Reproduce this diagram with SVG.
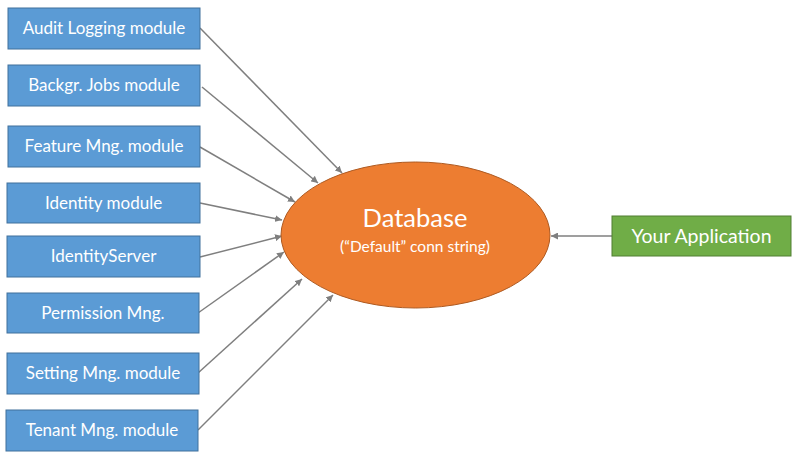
<svg xmlns="http://www.w3.org/2000/svg" width="800" height="459" viewBox="0 0 800 459">
<style>
.mod rect{fill:#5b9bd5;stroke:#41719c;stroke-width:1}
.t{font-family:Lato,"Open Sans",sans-serif;fill:#fff;text-anchor:middle}
.m{font-size:17px}
.c line{stroke:#7f7f7f;stroke-width:1.5;marker-end:url(#ah)}
</style>
<defs>
<marker id="ah" viewBox="0 0 10 10" refX="10" refY="5" markerWidth="7" markerHeight="7" markerUnits="userSpaceOnUse" orient="auto">
<path d="M0,0 L10,5 L0,10 z" fill="#7f7f7f"/>
</marker>
</defs>
<rect width="800" height="459" fill="#fff"/>
<g id="connectors" class="c">
<line x1="200" y1="28" x2="342" y2="173"/>
<line x1="202" y1="87" x2="318" y2="183"/>
<line x1="200" y1="147" x2="295" y2="202"/>
<line x1="200" y1="203" x2="282" y2="220"/>
<line x1="200" y1="257" x2="282" y2="236"/>
<line x1="198" y1="313" x2="284" y2="252"/>
<line x1="198" y1="373" x2="302" y2="279"/>
<line x1="198" y1="430" x2="333" y2="295"/>
<line x1="612" y1="236" x2="551" y2="236"/>
</g>
<g id="audit" class="mod"><rect x="8" y="8" width="192" height="41"/><text class="t m" x="104" y="34">Audit Logging module</text></g>
<g id="backgr" class="mod"><rect x="8" y="65" width="192" height="41"/><text class="t m" x="104" y="91">Backgr. Jobs module</text></g>
<g id="feature" class="mod"><rect x="8" y="126" width="192" height="41"/><text class="t m" x="104" y="152">Feature Mng. module</text></g>
<g id="identity" class="mod"><rect x="7" y="183" width="193" height="40"/><text class="t m" x="103.5" y="208.5">Identity module</text></g>
<g id="identityserver" class="mod"><rect x="7" y="236" width="193" height="41"/><text class="t m" x="103.5" y="262">IdentityServer</text></g>
<g id="permission" class="mod"><rect x="7" y="293" width="192" height="40"/><text class="t m" x="103" y="318.5">Permission Mng.</text></g>
<g id="setting" class="mod"><rect x="7" y="353" width="192" height="41"/><text class="t m" x="103" y="379">Setting Mng. module</text></g>
<g id="tenant" class="mod"><rect x="6" y="410" width="192" height="41"/><text class="t m" x="102" y="436">Tenant Mng. module</text></g>
<g id="database">
<ellipse cx="415.5" cy="235" rx="134.5" ry="73" fill="#ed7d31" stroke="#ae5a21" stroke-width="1"/>
<text class="t" x="415" y="227" font-size="25.5">Database</text>
<text class="t" x="415" y="252" font-size="15.5">(“Default” conn string)</text>
</g>
<g id="app">
<rect x="612" y="216" width="179" height="40" fill="#70ad47" stroke="#507e32" stroke-width="1"/>
<text class="t" x="701.5" y="243" font-size="19.5">Your Application</text>
</g>
</svg>
